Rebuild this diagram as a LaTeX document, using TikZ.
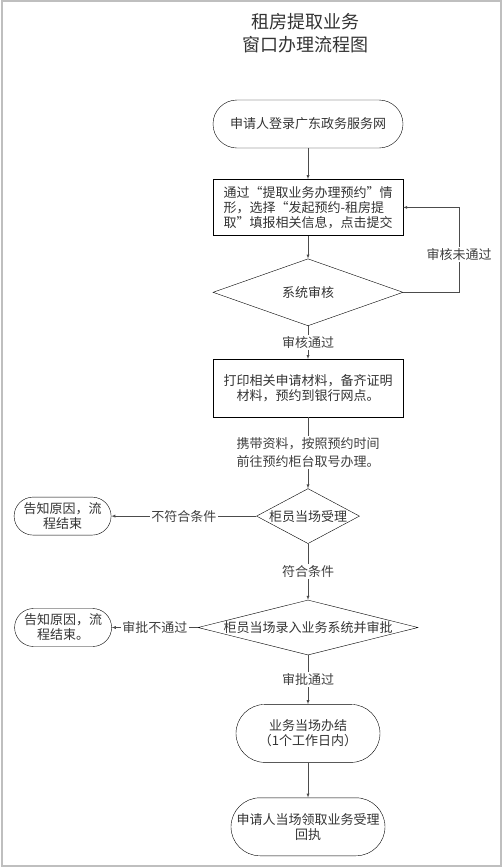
\documentclass[tikz,border=0pt]{standalone}
\usepackage{fontspec}
\setmainfont{Noto Sans CJK SC}
\usepackage{tikz}
\usetikzlibrary{shapes,arrows,positioning}

\begin{document}
\begin{tikzpicture}[
  x=1pt, y=1pt,
  font=\fontsize{13}{15}\selectfont,
  terminal/.style={rectangle, draw=black, rounded corners=19pt, align=center, inner sep=0pt, text=black!80},
  process/.style={rectangle, draw=black, minimum width=190pt, inner sep=0pt, text=black!80},
  decision/.style={diamond, draw=black, inner sep=0pt, text=black!80},
  arrow/.style={->, >=latex, draw=black!70},
  note/.style={fill=white, inner sep=1.5pt, align=center, text=black!75}
]
  \useasboundingbox (0,0) rectangle (503,-868);
  \draw[black!25, line width=1.5pt] (2,-1) rectangle (501,-866);

  \node[font=\fontsize{18}{23}\selectfont, align=center, text=black!80] (title) at (305,-33) {租房提取业务\\窗口办理流程图};

  \node[terminal, rounded corners=24pt, minimum width=190pt, minimum height=48pt] (login) at (308,-124) {申请人登录广东政务服务网};
  \node[process, align=left, minimum height=56pt, below=31pt of login] (book) {通过“提取业务办理预约”情\\形，选择“发起预约-租房提\\取”填报相关信息，点击提交};
  \node[decision, minimum width=190pt, minimum height=67pt, below=23pt of book] (check) {\makebox[0pt]{系统审核}};
  \node[process, align=center, minimum height=58pt, below=33pt of check] (print) {打印相关申请材料，备齐证明\\材料，预约到银行网点。};
  \node[decision, minimum width=103pt, minimum height=55pt, below=71pt of print] (accept) {\makebox[0pt]{柜员当场受理}};
  \node[decision, minimum width=220pt, minimum height=55pt, below=56pt of accept] (approve) {\makebox[0pt]{柜员当场录入业务系统并审批}};
  \node[terminal, rounded corners=29pt, minimum width=144pt, minimum height=58pt, below=49pt of approve] (done) {业务当场办结\\（1个工作日内）};
  \node[terminal, rounded corners=29pt, minimum width=154pt, minimum height=58pt, below=35pt of done] (receipt) {申请人当场领取业务受理\\回执};
  \node[terminal, minimum width=97pt, minimum height=38pt, left=145pt of accept] (end1) {告知原因，流\\程结束};
  \node[terminal, minimum width=97pt, minimum height=38pt, left=86pt of approve] (end2) {告知原因，流\\程结束。};

  \draw[arrow] (login) -- (book);
  \draw[arrow] (book) -- (check);
  \draw[arrow] (check.east) -- ++(56,0) |- node[pos=0.22, note] {审核未通过} (book.east);
  \draw[arrow] (check) -- node[note] {审核通过} (print);
  \draw[arrow] (print) -- node[note, font=\fontsize{13}{18}\selectfont] {携带资料，按照预约时间\\前往预约柜台取号办理。} (accept);
  \draw[arrow] (accept) -- node[note] {不符合条件} (end1);
  \draw[arrow] (accept) -- node[note] {符合条件} (approve);
  \draw[arrow] (approve) -- node[note] {审批不通过} (end2);
  \draw[arrow] (approve) -- node[note] {审批通过} (done);
  \draw[arrow] (done) -- (receipt);
\end{tikzpicture}
\end{document}
